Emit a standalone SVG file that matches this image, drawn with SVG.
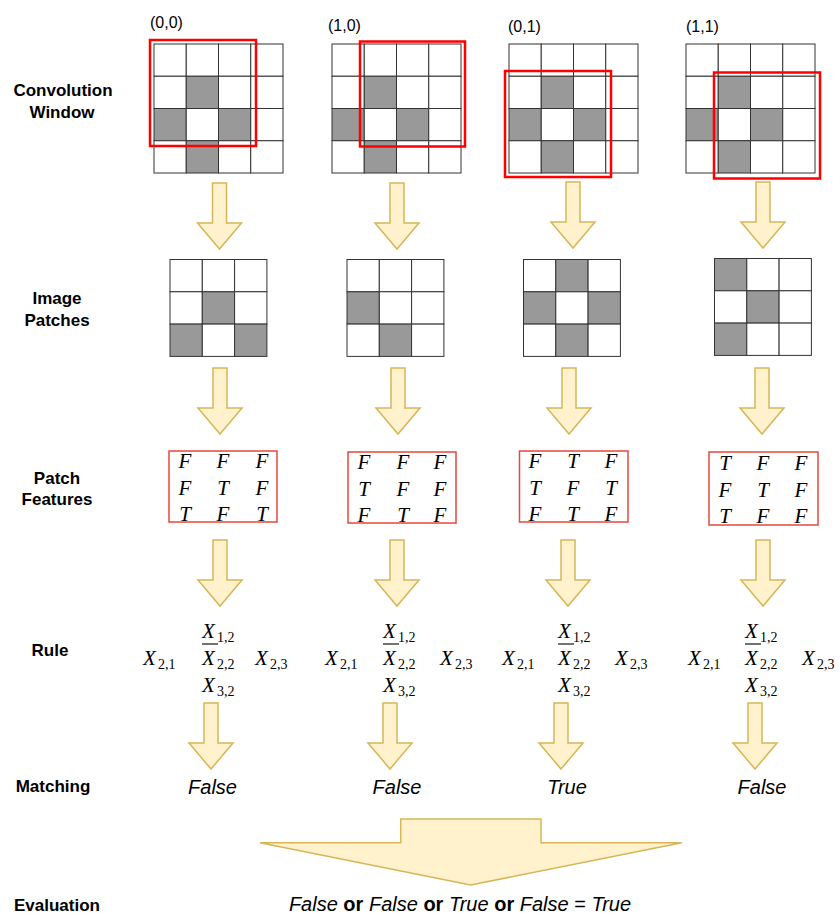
<svg xmlns="http://www.w3.org/2000/svg" xmlns:xlink="http://www.w3.org/1999/xlink" width="840" height="915" viewBox="0 0 840 915">
<style>
.lbl{font-family:"Liberation Sans",Arial,sans-serif;font-weight:bold;font-size:17px;fill:#000;text-anchor:middle}
.coord{font-family:"Liberation Sans",Arial,sans-serif;font-size:16px;fill:#000}
.cell{fill:#fff;stroke:#333;stroke-width:1}
.g{fill:#999;stroke:#333;stroke-width:1}
.win{fill:none;stroke:#ff0000;stroke-width:2.5}
.fbox{fill:#fff;stroke:#e8473c;stroke-width:1.5}
.ft{font-family:"Liberation Serif","Times New Roman",serif;font-style:italic;font-size:21px;fill:#000;text-anchor:middle}
.mx{font-family:"Liberation Serif","Times New Roman",serif;font-style:italic;font-size:21px;fill:#000}
.ms{font-family:"Liberation Serif","Times New Roman",serif;font-size:14px;fill:#000}
.bar{stroke:#000;stroke-width:1.1}
.arr{fill:#fff2cc;stroke:#d6b656;stroke-width:1.5}
.res{font-family:"Liberation Sans",Arial,sans-serif;font-style:italic;font-size:20px;fill:#000;text-anchor:middle}
.ev{font-family:"Liberation Sans",Arial,sans-serif;font-size:20px;fill:#000}
</style>
<defs>
<g id="grid4">
<rect class="cell" x="0" y="0" width="32.25" height="32.25"/>
<rect class="cell" x="32.25" y="0" width="32.25" height="32.25"/>
<rect class="cell" x="64.5" y="0" width="32.25" height="32.25"/>
<rect class="cell" x="96.75" y="0" width="32.25" height="32.25"/>
<rect class="cell" x="0" y="32.25" width="32.25" height="32.25"/>
<rect class="g" x="32.25" y="32.25" width="32.25" height="32.25"/>
<rect class="cell" x="64.5" y="32.25" width="32.25" height="32.25"/>
<rect class="cell" x="96.75" y="32.25" width="32.25" height="32.25"/>
<rect class="g" x="0" y="64.5" width="32.25" height="32.25"/>
<rect class="cell" x="32.25" y="64.5" width="32.25" height="32.25"/>
<rect class="g" x="64.5" y="64.5" width="32.25" height="32.25"/>
<rect class="cell" x="96.75" y="64.5" width="32.25" height="32.25"/>
<rect class="cell" x="0" y="96.75" width="32.25" height="32.25"/>
<rect class="g" x="32.25" y="96.75" width="32.25" height="32.25"/>
<rect class="cell" x="64.5" y="96.75" width="32.25" height="32.25"/>
<rect class="cell" x="96.75" y="96.75" width="32.25" height="32.25"/>
</g>
<path id="arrow" class="arr" d="M-7,0 H7 V40 H22 L0,66 L-22,40 H-7 Z"/>
</defs>
<rect width="840" height="915" fill="#fff"/>

<g id="row-labels">
<text class="lbl" x="63" y="96">Convolution</text>
<text class="lbl" x="62" y="118">Window</text>
<text class="lbl" x="57" y="304">Image</text>
<text class="lbl" x="57" y="326">Patches</text>
<text class="lbl" x="57" y="484">Patch</text>
<text class="lbl" x="57" y="505">Features</text>
<text class="lbl" x="50" y="656">Rule</text>
<text class="lbl" x="53" y="792">Matching</text>
<text class="lbl" x="57" y="911">Evaluation</text>
</g>

<g id="window-00">
<text class="coord" x="150" y="28">(0,0)</text>
<use xlink:href="#grid4" x="154" y="44"/>
<rect class="win" x="150" y="40" width="106" height="106"/>
</g>
<g id="window-10">
<text class="coord" x="328" y="31">(1,0)</text>
<use xlink:href="#grid4" x="332" y="44"/>
<rect class="win" x="360" y="41.5" width="105" height="105"/>
</g>
<g id="window-01">
<text class="coord" x="508" y="32">(0,1)</text>
<use xlink:href="#grid4" x="509" y="44"/>
<rect class="win" x="505" y="71" width="106" height="106"/>
</g>
<g id="window-11">
<text class="coord" x="686" y="32">(1,1)</text>
<use xlink:href="#grid4" x="686" y="44"/>
<rect class="win" x="714" y="72.5" width="106" height="106"/>
</g>

<g id="patch-1" transform="translate(170,259.5)">
<rect class="cell" x="0" y="0" width="32.3" height="32.3"/><rect class="cell" x="32.3" y="0" width="32.3" height="32.3"/><rect class="cell" x="64.6" y="0" width="32.3" height="32.3"/>
<rect class="cell" x="0" y="32.3" width="32.3" height="32.3"/><rect class="g" x="32.3" y="32.3" width="32.3" height="32.3"/><rect class="cell" x="64.6" y="32.3" width="32.3" height="32.3"/>
<rect class="g" x="0" y="64.6" width="32.3" height="32.3"/><rect class="cell" x="32.3" y="64.6" width="32.3" height="32.3"/><rect class="g" x="64.6" y="64.6" width="32.3" height="32.3"/>
</g>
<g id="patch-2" transform="translate(347,259.5)">
<rect class="cell" x="0" y="0" width="32.3" height="32.3"/><rect class="cell" x="32.3" y="0" width="32.3" height="32.3"/><rect class="cell" x="64.6" y="0" width="32.3" height="32.3"/>
<rect class="g" x="0" y="32.3" width="32.3" height="32.3"/><rect class="cell" x="32.3" y="32.3" width="32.3" height="32.3"/><rect class="cell" x="64.6" y="32.3" width="32.3" height="32.3"/>
<rect class="cell" x="0" y="64.6" width="32.3" height="32.3"/><rect class="g" x="32.3" y="64.6" width="32.3" height="32.3"/><rect class="cell" x="64.6" y="64.6" width="32.3" height="32.3"/>
</g>
<g id="patch-3" transform="translate(523.5,259.5)">
<rect class="cell" x="0" y="0" width="32.3" height="32.3"/><rect class="g" x="32.3" y="0" width="32.3" height="32.3"/><rect class="cell" x="64.6" y="0" width="32.3" height="32.3"/>
<rect class="g" x="0" y="32.3" width="32.3" height="32.3"/><rect class="cell" x="32.3" y="32.3" width="32.3" height="32.3"/><rect class="g" x="64.6" y="32.3" width="32.3" height="32.3"/>
<rect class="cell" x="0" y="64.6" width="32.3" height="32.3"/><rect class="g" x="32.3" y="64.6" width="32.3" height="32.3"/><rect class="cell" x="64.6" y="64.6" width="32.3" height="32.3"/>
</g>
<g id="patch-4" transform="translate(714.5,258.5)">
<rect class="g" x="0" y="0" width="32.3" height="32.3"/><rect class="cell" x="32.3" y="0" width="32.3" height="32.3"/><rect class="cell" x="64.6" y="0" width="32.3" height="32.3"/>
<rect class="cell" x="0" y="32.3" width="32.3" height="32.3"/><rect class="g" x="32.3" y="32.3" width="32.3" height="32.3"/><rect class="cell" x="64.6" y="32.3" width="32.3" height="32.3"/>
<rect class="g" x="0" y="64.6" width="32.3" height="32.3"/><rect class="cell" x="32.3" y="64.6" width="32.3" height="32.3"/><rect class="cell" x="64.6" y="64.6" width="32.3" height="32.3"/>
</g>

<g id="features-1">
<rect class="fbox" x="169" y="451" width="108" height="71"/>
<text class="ft" y="468"><tspan x="185">F</tspan><tspan x="223">F</tspan><tspan x="262">F</tspan></text>
<text class="ft" y="495"><tspan x="185">F</tspan><tspan x="223">T</tspan><tspan x="262">F</tspan></text>
<text class="ft" y="521"><tspan x="185">T</tspan><tspan x="223">F</tspan><tspan x="262">T</tspan></text>
</g>
<g id="features-2">
<rect class="fbox" x="348" y="452" width="108" height="71"/>
<text class="ft" y="469"><tspan x="364">F</tspan><tspan x="403">F</tspan><tspan x="440">F</tspan></text>
<text class="ft" y="496"><tspan x="364">T</tspan><tspan x="403">F</tspan><tspan x="440">F</tspan></text>
<text class="ft" y="522"><tspan x="364">F</tspan><tspan x="403">T</tspan><tspan x="440">F</tspan></text>
</g>
<g id="features-3">
<rect class="fbox" x="519.5" y="451" width="108.5" height="71"/>
<text class="ft" y="468"><tspan x="535">F</tspan><tspan x="573">T</tspan><tspan x="611">F</tspan></text>
<text class="ft" y="495"><tspan x="535">T</tspan><tspan x="573">F</tspan><tspan x="611">T</tspan></text>
<text class="ft" y="521"><tspan x="535">F</tspan><tspan x="573">T</tspan><tspan x="611">F</tspan></text>
</g>
<g id="features-4">
<rect class="fbox" x="709" y="452" width="109" height="73"/>
<text class="ft" y="470"><tspan x="725">T</tspan><tspan x="763">F</tspan><tspan x="801">F</tspan></text>
<text class="ft" y="497"><tspan x="725">F</tspan><tspan x="763">T</tspan><tspan x="801">F</tspan></text>
<text class="ft" y="523"><tspan x="725">T</tspan><tspan x="763">F</tspan><tspan x="801">F</tspan></text>
</g>

<g id="rule-1">
<text y="665"><tspan class="mx" x="143">X</tspan><tspan class="ms" x="158" dy="4">2,1</tspan></text>
<text y="638"><tspan class="mx" x="202">X</tspan><tspan class="ms" x="217" dy="4">1,2</tspan></text>
<line class="bar" x1="202" y1="644" x2="218" y2="644"/>
<text y="665"><tspan class="mx" x="202">X</tspan><tspan class="ms" x="217" dy="4">2,2</tspan></text>
<text y="692"><tspan class="mx" x="202">X</tspan><tspan class="ms" x="217" dy="4">3,2</tspan></text>
<text y="665"><tspan class="mx" x="255">X</tspan><tspan class="ms" x="270" dy="4">2,3</tspan></text>
</g>
<g id="rule-2">
<text y="665"><tspan class="mx" x="325">X</tspan><tspan class="ms" x="340" dy="4">2,1</tspan></text>
<text y="638"><tspan class="mx" x="383">X</tspan><tspan class="ms" x="398" dy="4">1,2</tspan></text>
<line class="bar" x1="383" y1="644" x2="399" y2="644"/>
<text y="665"><tspan class="mx" x="383">X</tspan><tspan class="ms" x="398" dy="4">2,2</tspan></text>
<text y="692"><tspan class="mx" x="383">X</tspan><tspan class="ms" x="398" dy="4">3,2</tspan></text>
<text y="665"><tspan class="mx" x="440">X</tspan><tspan class="ms" x="455" dy="4">2,3</tspan></text>
</g>
<g id="rule-3">
<text y="665"><tspan class="mx" x="502">X</tspan><tspan class="ms" x="517" dy="4">2,1</tspan></text>
<text y="638"><tspan class="mx" x="558">X</tspan><tspan class="ms" x="573" dy="4">1,2</tspan></text>
<line class="bar" x1="558" y1="644" x2="574" y2="644"/>
<text y="665"><tspan class="mx" x="558">X</tspan><tspan class="ms" x="573" dy="4">2,2</tspan></text>
<text y="692"><tspan class="mx" x="558">X</tspan><tspan class="ms" x="573" dy="4">3,2</tspan></text>
<text y="665"><tspan class="mx" x="615">X</tspan><tspan class="ms" x="630" dy="4">2,3</tspan></text>
</g>
<g id="rule-4">
<text y="665"><tspan class="mx" x="688">X</tspan><tspan class="ms" x="703" dy="4">2,1</tspan></text>
<text y="638"><tspan class="mx" x="745">X</tspan><tspan class="ms" x="760" dy="4">1,2</tspan></text>
<line class="bar" x1="745" y1="644" x2="761" y2="644"/>
<text y="665"><tspan class="mx" x="745">X</tspan><tspan class="ms" x="760" dy="4">2,2</tspan></text>
<text y="692"><tspan class="mx" x="745">X</tspan><tspan class="ms" x="760" dy="4">3,2</tspan></text>
<text y="665"><tspan class="mx" x="802">X</tspan><tspan class="ms" x="817" dy="4">2,3</tspan></text>
</g>

<g id="matching">
<text class="res" x="212.5" y="794">False</text>
<text class="res" x="397" y="794">False</text>
<text class="res" x="567" y="794">True</text>
<text class="res" x="762" y="794">False</text>
</g>

<g id="evaluation">
<text class="ev" x="460" y="911" text-anchor="middle"><tspan font-style="italic">False</tspan><tspan font-weight="bold"> or </tspan><tspan font-style="italic">False</tspan><tspan font-weight="bold"> or </tspan><tspan font-style="italic">True</tspan><tspan font-weight="bold"> or </tspan><tspan font-style="italic">False</tspan> = <tspan font-style="italic">True</tspan></text>
</g>

<g id="connectors">
<use xlink:href="#arrow" transform="translate(219.5,183)"/>
<use xlink:href="#arrow" transform="translate(397,183)"/>
<use xlink:href="#arrow" transform="translate(573,182)"/>
<use xlink:href="#arrow" transform="translate(763,182)"/>
<use xlink:href="#arrow" transform="translate(220,368)"/>
<use xlink:href="#arrow" transform="translate(398,368)"/>
<use xlink:href="#arrow" transform="translate(569,368)"/>
<use xlink:href="#arrow" transform="translate(762,368)"/>
<use xlink:href="#arrow" transform="translate(220,540)"/>
<use xlink:href="#arrow" transform="translate(397,540)"/>
<use xlink:href="#arrow" transform="translate(568,540)"/>
<use xlink:href="#arrow" transform="translate(763,540)"/>
<use xlink:href="#arrow" transform="translate(211,703)"/>
<use xlink:href="#arrow" transform="translate(390,703)"/>
<use xlink:href="#arrow" transform="translate(561,703)"/>
<use xlink:href="#arrow" transform="translate(755,703)"/>
<path class="arr" d="M400.7,819 H541 V842.7 H681.7 L470.7,885 L260,842.7 H400.7 Z"/>
</g>
</svg>
